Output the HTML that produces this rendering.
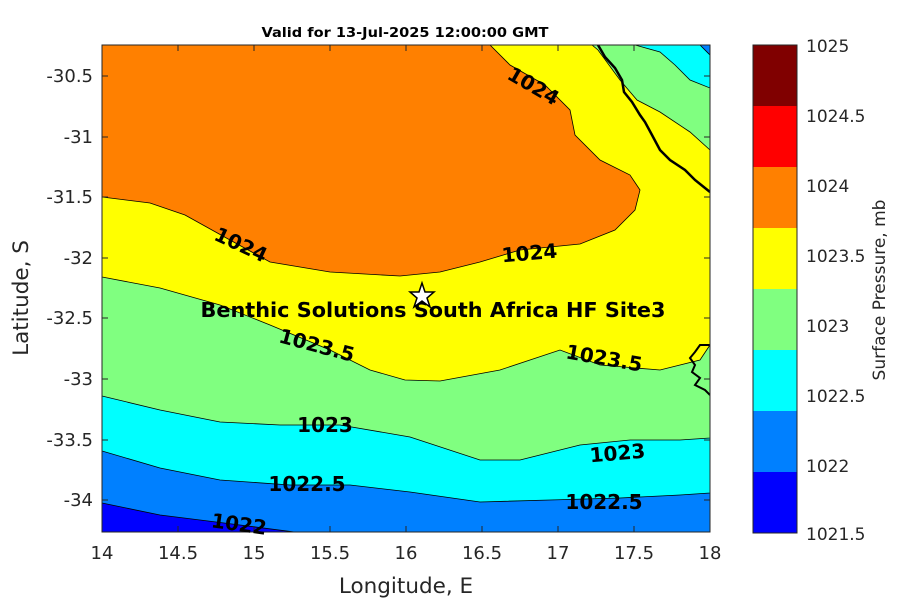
<!DOCTYPE html>
<html><head><style>body{margin:0;background:#fff}svg text{font-family:"DejaVu Sans","Liberation Sans",sans-serif}</style></head><body>
<svg width="900" height="600" viewBox="0 0 900 600" xmlns="http://www.w3.org/2000/svg">
<defs><clipPath id="c"><rect x="102" y="45" width="608" height="487"/></clipPath></defs>
<g clip-path="url(#c)" stroke="#000" stroke-width="0.8">
<rect x="102" y="45" width="608" height="487" fill="#0080ff" stroke="none"/>
<path d="M102,451 L160,468 220,480 290,485 350,485 410,492 480,502 550,500 620,498 680,495 710,493 L710,45 102,45Z" fill="#00ffff"/>
<path d="M102,396 L160,410 220,422 280,425 340,425 410,437 480,460 520,460 580,445 630,440 680,440 710,438 L710,45 102,45Z" fill="#80ff80"/>
<path d="M102,277 L160,288 220,305 270,325 330,350 370,370 405,380 440,381 500,370 560,350 600,365 660,370 700,360 710,345 L710,150 690,132 660,112 637,100 620,80 598,50 592,45 102,45Z" fill="#ffff00"/>
<path d="M102,197 L150,203 185,215 230,240 270,262 330,272 400,276 440,272 480,262 520,250 580,244 615,230 635,210 640,190 630,175 600,160 575,135 570,110 545,85 510,65 490,45 102,45Z" fill="#ff8000"/>
<path d="M102,503 L160,515 240,525 310,534 102,534Z" fill="#0000ff"/>
<path d="M635,45 L660,52 675,65 690,80 710,88 L710,45Z" fill="#00ffff"/>
<path d="M700,45 L710,55 710,45Z" fill="#0080ff"/>
<path d="M598,45 L605,57 615,68 622,80 624,92 632,102 640,115 645,122 652,135 660,150 670,160 685,170 695,180 705,188 710,192" fill="none" stroke-width="2.5"/>
<path d="M710,345 L700,345 695,352 690,358 695,365 692,372 700,378 695,385 705,390 710,395" fill="none" stroke-width="2"/>
</g>
<g stroke="#262626" stroke-width="1">
<path d="M102,532v-6M178,532v-6M254,532v-6M330,532v-6M406,532v-6M482,532v-6M558,532v-6M634,532v-6M710,532v-6M102,45v6M178,45v6M254,45v6M330,45v6M406,45v6M482,45v6M558,45v6M634,45v6M710,45v6"/>
<path d="M102,76h6M102,137h6M102,197h6M102,258h6M102,318h6M102,379h6M102,440h6M102,500h6M710,76h-6M710,137h-6M710,197h-6M710,258h-6M710,318h-6M710,379h-6M710,440h-6M710,500h-6"/>
</g>
<rect x="102" y="45" width="608" height="487" fill="none" stroke="#262626" stroke-width="1"/>
<g font-weight="bold" font-size="20" fill="#000" text-anchor="middle">
<text transform="translate(530,92) rotate(30)">1024</text>
<text transform="translate(238,251) rotate(25)">1024</text>
<text transform="translate(530,260) rotate(-5)">1024</text>
<text transform="translate(315,352) rotate(15)">1023.5</text>
<text transform="translate(603,365) rotate(10)">1023.5</text>
<text x="325" y="432">1023</text>
<text transform="translate(618,460) rotate(-5)">1023</text>
<text x="307" y="491">1022.5</text>
<text x="604" y="509">1022.5</text>
<text transform="translate(238,531) rotate(8)">1022</text>
<text x="433" y="317" font-size="20.5" textLength="465" lengthAdjust="spacingAndGlyphs">Benthic Solutions South Africa HF Site3</text>
</g>
<polygon points="422,283 425,292 434,292 427,298 430,307 422,301 414,307 417,298 410,292 419,292" fill="#fff" stroke="#000" stroke-width="1.5"/>
<g font-size="18" fill="#262626" text-anchor="middle">
<text x="102" y="559">14</text><text x="178" y="559">14.5</text><text x="254" y="559">15</text><text x="330" y="559">15.5</text><text x="406" y="559">16</text><text x="482" y="559">16.5</text><text x="558" y="559">17</text><text x="634" y="559">17.5</text><text x="710" y="559">18</text>
</g>
<g font-size="18" fill="#262626" text-anchor="end">
<text x="93" y="82">-30.5</text><text x="93" y="143">-31</text><text x="93" y="203">-31.5</text><text x="93" y="264">-32</text><text x="93" y="324">-32.5</text><text x="93" y="385">-33</text><text x="93" y="446">-33.5</text><text x="93" y="506">-34</text>
</g>
<text x="406" y="593" font-size="21.5" fill="#262626" text-anchor="middle">Longitude, E</text>
<text transform="translate(28,298) rotate(-90)" font-size="21.5" fill="#262626" text-anchor="middle">Latitude, S</text>
<text x="405" y="37" font-size="13" font-weight="bold" text-anchor="middle" textLength="287" lengthAdjust="spacingAndGlyphs">Valid for 13-Jul-2025 12:00:00 GMT</text>
<g stroke="none">
<rect x="753" y="45" width="44" height="61" fill="#800000"/>
<rect x="753" y="106" width="44" height="61" fill="#ff0000"/>
<rect x="753" y="167" width="44" height="61" fill="#ff8000"/>
<rect x="753" y="228" width="44" height="61" fill="#ffff00"/>
<rect x="753" y="289" width="44" height="61" fill="#80ff80"/>
<rect x="753" y="350" width="44" height="61" fill="#00ffff"/>
<rect x="753" y="411" width="44" height="61" fill="#0080ff"/>
<rect x="753" y="472" width="44" height="61" fill="#0000ff"/>
</g>
<rect x="753" y="45" width="44" height="488" fill="none" stroke="#262626"/>
<g font-size="17" fill="#262626">
<text x="806" y="52">1025</text><text x="806" y="122">1024.5</text><text x="806" y="192">1024</text><text x="806" y="262">1023.5</text><text x="806" y="332">1023</text><text x="806" y="402">1022.5</text><text x="806" y="472">1022</text><text x="806" y="540">1021.5</text>
</g>
<text transform="translate(885,290) rotate(-90)" font-size="17" fill="#262626" text-anchor="middle">Surface Pressure, mb</text>
</svg>
</body></html>
